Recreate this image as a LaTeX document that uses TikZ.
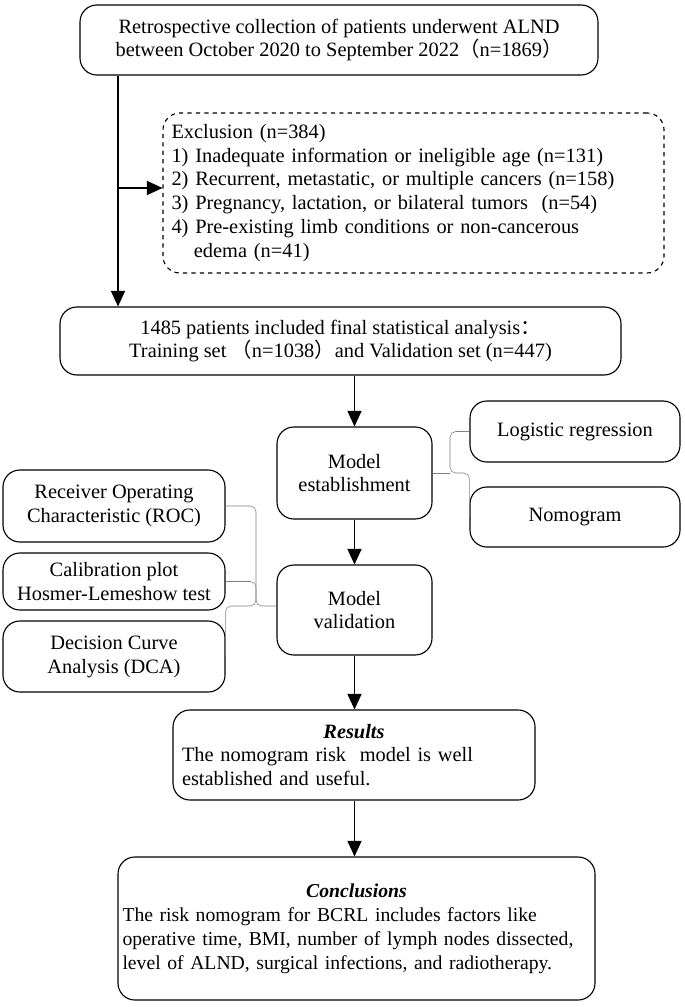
\documentclass[tikz,border=0pt]{standalone}
\usepackage{fontspec}
\setmainfont{Liberation Serif}
\newfontfamily\cjk{Noto Sans CJK SC}
\usetikzlibrary{arrows.meta}
\tikzset{
  box/.style={draw, thick, rounded corners=12pt, align=center, font=\fontsize{14.5}{17}\selectfont, inner sep=2pt},
  arr/.style={thick, -{Triangle[length=11pt,width=10pt]}},
  brace/.style={gray, thin, rounded corners=4pt}
}
\begin{document}
\begin{tikzpicture}
  \useasboundingbox (0,0) rectangle (17.125,-25.175);
  \node[box, minimum width=12.95cm, minimum height=1.75cm] (top) at (8.475,-1.0)
    {Retrospective collection of patients underwent ALND\\between October 2020 to September 2022{\cjk （}n=1869{\cjk ）}};
  \node[box, dashed, align=left, minimum width=12.525cm, minimum height=4cm, text width=12.1cm] (excl) at (10.3375,-4.825)
    {Exclusion (n=384)\\1) Inadequate information or ineligible age (n=131)\\2) Recurrent, metastatic, or multiple cancers (n=158)\\3) Pregnancy, lactation, or bilateral tumors\ \ (n=54)\\4) Pre-existing limb conditions or non-cancerous\\\hspace*{1.1em}edema (n=41)};
  \node[box, minimum width=14.025cm, minimum height=1.7cm] (incl) at (8.5125,-8.525)
    {1485 patients included final statistical analysis{\cjk ：}\\Training set {\cjk （}n=1038{\cjk ）}and Validation set (n=447)};
  \node[box, minimum width=3.875cm, minimum height=2.3cm] (est) at (8.8625,-11.825) {Model\\establishment};
  \node[box, minimum width=5.25cm, minimum height=1.525cm] (logit) at (14.375,-10.7875) {Logistic regression};
  \node[box, minimum width=5.25cm, minimum height=1.5cm] (nomo) at (14.375,-12.925) {Nomogram};
  \node[box, minimum width=3.875cm, minimum height=2.25cm] (val) at (8.8625,-15.25) {Model\\validation};
  \node[box, minimum width=5.55cm, minimum height=1.8cm] (roc) at (2.85,-12.65) {Receiver Operating\\Characteristic (ROC)};
  \node[box, minimum width=5.55cm, minimum height=1.425cm] (calib) at (2.85,-14.5375) {Calibration plot\\Hosmer-Lemeshow test};
  \node[box, minimum width=5.55cm, minimum height=1.775cm] (dca) at (2.85,-16.4125) {Decision Curve\\Analysis (DCA)};
  \node[box, align=left, minimum width=9.05cm, minimum height=2.25cm, text width=8.6cm] (res) at (8.85,-18.875)
    {\hfill\textbf{\textit{Results}}\hfill\hbox{}\\The nomogram risk\ \ model is well\\established and useful.};
  \node[box, align=left, minimum width=11.925cm, minimum height=3.575cm, text width=11.7cm, inner sep=1pt,
    font=\fontsize{14}{17}\selectfont] (conc) at (8.9125,-23.2125)
    {\hfill\textbf{\textit{Conclusions}}\hfill\hbox{}\\The risk nomogram for BCRL includes factors like\\operative time, BMI, number of lymph nodes dissected,\\level of ALND, surgical infections, and radiotherapy.};

  \coordinate (split) at (2.95,-4.7);
  \draw[thick] (top.south -| split) -- (split);
  \draw[arr] (split) -- (incl.north -| split);
  \draw[arr] (split) -- (excl.west |- split);
  \draw[arr] (incl.south -| est) -- (est);
  \draw[arr] (est) -- (val);
  \draw[arr] (val) -- (res.north -| val);
  \draw[arr] (res.south -| val) -- (conc.north -| val);

  \coordinate (rb) at (11.25,-11.825);
  \draw[brace] (logit.west) -| (rb) -| (nomo.west);
  \draw[brace] (est.east) -- (rb);
  \coordinate (lb) at (6.4,-15.15);
  \draw[brace] (roc.east) -| (lb) -| (dca.east);
  \draw[brace] (calib.east) -| (lb) -- (val.west |- lb);
\end{tikzpicture}
\end{document}
